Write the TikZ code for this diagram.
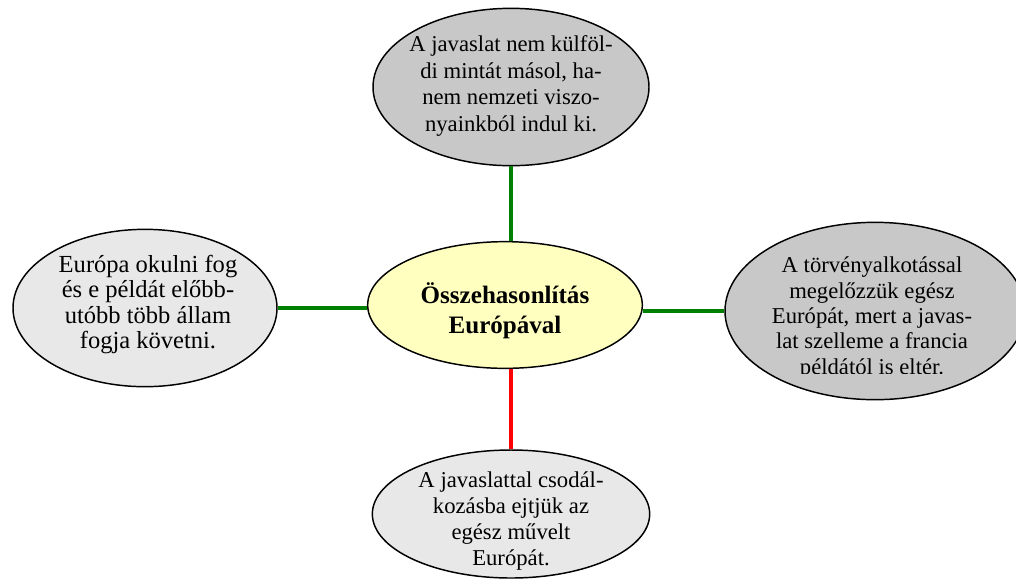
\documentclass[tikz,border=0pt]{standalone}
\usepackage{fontspec}
\setmainfont{Liberation Serif}
\usetikzlibrary{shapes.geometric}
\definecolor{darkfill}{RGB}{200,200,200}
\definecolor{lightfill}{RGB}{232,232,232}
\definecolor{centerfill}{RGB}{255,255,192}
\definecolor{linkgreen}{RGB}{0,128,0}
\definecolor{linkred}{RGB}{255,0,0}
\tikzset{
  bubble/.style={ellipse, draw=black, line width=1.1pt, inner sep=0pt},
  bubbletext/.style={align=center, font=\fontsize{17}{19.5}\selectfont, inner sep=0pt},
  link/.style={line width=3pt},
}
\begin{document}
\begin{tikzpicture}[x=0.75pt,y=-0.75pt]
\useasboundingbox (0,0) rectangle (1016,583);

% ellipses
\node[bubble, fill=centerfill, minimum width=206pt, minimum height=95pt] (mid) at (505,305) {};
\node[bubble, fill=darkfill, minimum width=207pt, minimum height=118pt] (top) at (511,87) {};
\node[bubble, fill=darkfill, minimum width=225pt, minimum height=133pt] (right) at (875,311) {};
\node[bubble, fill=lightfill, minimum width=198pt, minimum height=118pt] (left) at (145,308) {};
\node[bubble, fill=lightfill, minimum width=208pt, minimum height=96pt] (bottom) at (511,514) {};

% connectors
\draw[link, linkgreen] (top.south) -- (top.south |- mid.north);
\draw[link, linkgreen] (left.east) -- (left.east -| mid.west);
\draw[link, linkgreen] (right.west) -- (right.west -| mid.east);
\draw[link, linkred] (bottom.north) -- (bottom.north |- mid.south);

% texts
\node[bubbletext, font=\bfseries\fontsize{18.8}{22.5}\selectfont] (midtext) at (505,311)
  {Összehasonlítás\\Európával};
\node[bubbletext, font=\fontsize{17}{20}\selectfont] (toptext) at (511,86)
  {A javaslat nem külföl-\\di mintát másol, ha-\\nem nemzeti viszo-\\nyainkból indul ki.};
\begin{scope}
\clip (720,215) rectangle (1016,373);
\node[bubbletext, font=\fontsize{17}{19}\selectfont] (righttext) at (872,318)
  {A törvényalkotással\\megelőzzük egész\\Európát, mert a javas-\\lat szelleme a francia\\példától is eltér.};
\end{scope}
\node[bubbletext, font=\fontsize{18.4}{19}\selectfont] (lefttext) at (148,304.5)
  {Európa okulni fog\\és e példát előbb-\\utóbb több állam\\fogja követni.};
\node[bubbletext] (bottomtext) at (511,521)
  {A javaslattal csodál-\\kozásba ejtjük az\\egész művelt\\Európát.};
\end{tikzpicture}
\end{document}
